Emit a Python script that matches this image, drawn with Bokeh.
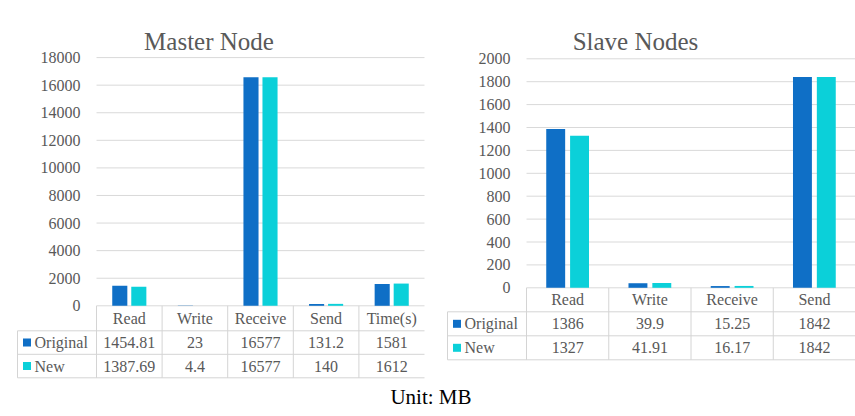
import numpy as np
from bokeh.plotting import figure
from bokeh.models import Range1d
from bokeh.core.properties import value
from bokeh.embed import file_html
from bokeh.resources import INLINE

# ---------------- data ----------------
series_names = ["Original", "New"]

master_categories = ["Read", "Write", "Receive", "Send", "Time(s)"]
master_original = [1454.81, 23, 16577, 131.2, 1581]
master_new = [1387.69, 4.4, 16577, 140, 1612]
master_ticks = [0, 2000, 4000, 6000, 8000, 10000, 12000, 14000, 16000, 18000]

slave_categories = ["Read", "Write", "Receive", "Send"]
slave_original = [1386, 39.9, 15.25, 1842]
slave_new = [1327, 41.91, 16.17, 1842]
slave_ticks = [0, 200, 400, 600, 800, 1000, 1200, 1400, 1600, 1800, 2000]

# ---------------- style ----------------
W, H = 855, 416
C_ORIG = "#0F6FC6"
C_NEW = "#0BD0D9"
GRID = "#D9D9D9"
TXT = "#595959"
FONT = value("Liberation Serif")

# panel geometry (pixels)
master_geo = dict(px_left=96.0, cat_w=65.6, px_zero=305.3, tick_px=27.58, tick_step=2000,
                  col_left=17.0, header_h=25.0, row_h=23.5, title_x=208.5)
slave_geo = dict(px_left=526.0, cat_w=82.25, px_zero=287.3, tick_px=22.9, tick_step=200,
                 col_left=447.0, header_h=24.0, row_h=24.0, title_x=635.0)


def ranges(g):
    upp = g["tick_step"] / g["tick_px"]
    xr = Range1d(-g["px_left"] / g["cat_w"], (W - g["px_left"]) / g["cat_w"])
    yr = Range1d(-(H - g["px_zero"]) * upp, g["px_zero"] * upp)
    return xr, yr


mx, my = ranges(master_geo)
sx, sy = ranges(slave_geo)

p = figure(width=W, height=H, x_range=mx, y_range=my, x_axis_type=None, y_axis_type=None,
           min_border=0, toolbar_location=None, output_backend="svg",
           outline_line_color=None, background_fill_color="white", border_fill_color="white")
p.extra_x_ranges = {"slave_x": sx}
p.extra_y_ranges = {"slave_y": sy}


def draw_panel(title, cats, orig, new, ticks, g, rx=None, ry=None):
    kw = {}
    if rx:
        kw = dict(x_range_name=rx, y_range_name=ry)
    n = len(cats)
    ux = 1.0 / g["cat_w"]
    uy = g["tick_step"] / g["tick_px"]
    px_x = lambda px: (px - g["px_left"]) * ux
    px_y = lambda py: (g["px_zero"] - py) * uy

    # gridlines
    p.segment(x0=[0] * len(ticks), x1=[n] * len(ticks), y0=ticks, y1=ticks,
              line_color=GRID, line_width=1, **kw)
    # tick labels
    p.text(x=[-16 * ux] * len(ticks), y=ticks, text=[str(t) for t in ticks],
           text_align="right", text_baseline="middle", text_font=FONT,
           text_font_size="16px", text_color=TXT, **kw)

    # bars
    xs = np.arange(n) + 0.5
    p.vbar(x=xs - 0.145, top=orig, bottom=0, width=0.23, fill_color=C_ORIG, line_color=None, **kw)
    p.vbar(x=xs + 0.145, top=new, bottom=0, width=0.23, fill_color=C_NEW, line_color=None, **kw)

    # data table
    y_h = -g["header_h"] * uy
    y_r1 = y_h - g["row_h"] * uy
    y_r2 = y_r1 - g["row_h"] * uy
    xl = px_x(g["col_left"])
    tbl = "#D4D4D4"
    p.segment(x0=[xl] * 3, x1=[n] * 3, y0=[y_h, y_r1, y_r2], y1=[y_h, y_r1, y_r2],
              line_color=tbl, line_width=1, **kw)
    p.segment(x0=list(range(n)), x1=list(range(n)), y0=[0] * n, y1=[y_r2] * n,
              line_color=tbl, line_width=1, **kw)
    p.segment(x0=[xl], x1=[xl], y0=[y_h], y1=[y_r2], line_color=tbl, line_width=1, **kw)

    p.text(x=xs, y=[y_h / 2] * n, text=cats, text_align="center", text_baseline="middle",
           text_font=FONT, text_font_size="16px", text_color=TXT, **kw)
    for vals, y0, y1 in ((orig, y_h, y_r1), (new, y_r1, y_r2)):
        p.text(x=xs, y=[(y0 + y1) / 2] * n, text=[f"{v:g}" for v in vals],
               text_align="center", text_baseline="middle", text_font=FONT,
               text_font_size="16px", text_color=TXT, **kw)
    # legend keys
    ymid = [(y_h + y_r1) / 2, (y_r1 + y_r2) / 2]
    p.scatter(x=[xl + 9.5 * ux] * 2, y=ymid, marker="square", size=8,
              fill_color=[C_ORIG, C_NEW], line_color=None, **kw)
    p.text(x=[xl + 17 * ux] * 2, y=ymid, text=series_names, text_align="left",
           text_baseline="middle", text_font=FONT, text_font_size="16px",
           text_color=TXT, **kw)

    # title
    p.text(x=[px_x(g["title_x"])], y=[px_y(40.5)], text=[title], text_align="center",
           text_baseline="alphabetic", text_font=FONT, text_font_size="25px",
           text_color=TXT, **kw)
    return px_x, px_y


mpx, mpy = draw_panel("Master Node", master_categories, master_original, master_new,
                      master_ticks, master_geo)
draw_panel("Slave Nodes", slave_categories, slave_original, slave_new,
           slave_ticks, slave_geo, "slave_x", "slave_y")

# unit note
p.text(x=[mpx(430.5)], y=[mpy(396.5)], text=["Unit: MB"], text_align="center",
       text_baseline="alphabetic", text_font=FONT, text_font_size="21px", text_color="black")

open("out.html", "w").write(file_html(p, INLINE))
